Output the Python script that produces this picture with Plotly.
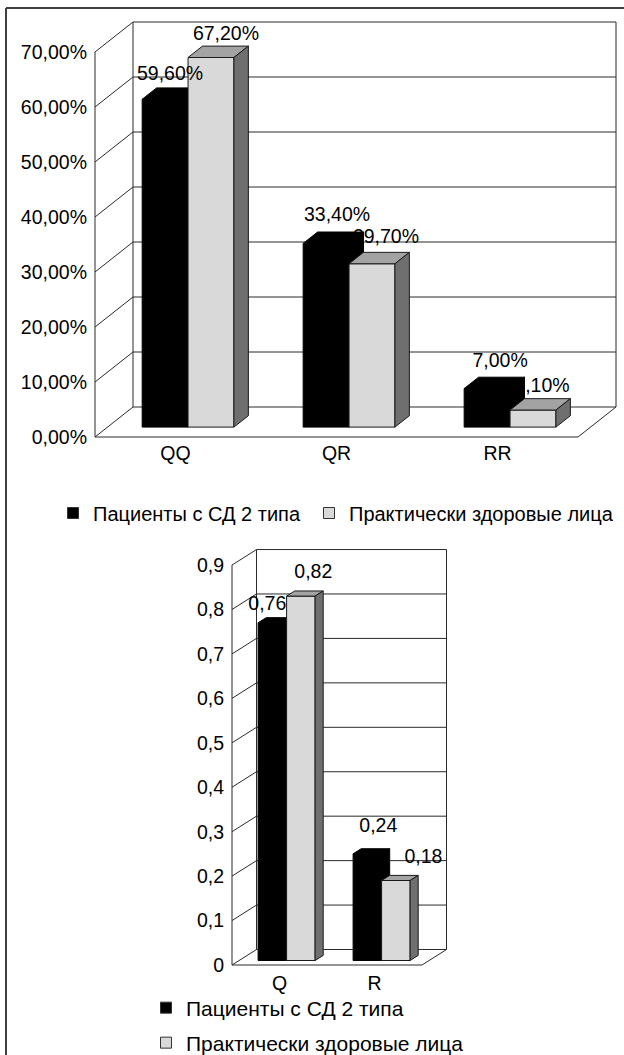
import plotly.graph_objects as go

W, H = 624, 1055

# ---------------- data ----------------
series_names = ["Пациенты с СД 2 типа", "Практически здоровые лица"]

genotypes = ["QQ", "QR", "RR"]
patients_genotype = [59.6, 33.4, 7.0]
healthy_genotype = [67.2, 29.7, 3.1]
genotype_ticks = [0, 10, 20, 30, 40, 50, 60, 70]
genotype_tick_labels = ["0,00%", "10,00%", "20,00%", "30,00%",
                        "40,00%", "50,00%", "60,00%", "70,00%"]

alleles = ["Q", "R"]
patients_allele = [0.76, 0.24]
healthy_allele = [0.82, 0.18]
allele_ticks = [0, 0.1, 0.2, 0.3, 0.4, 0.5, 0.6, 0.7, 0.8, 0.9]
allele_tick_labels = ["0", "0,1", "0,2", "0,3", "0,4",
                      "0,5", "0,6", "0,7", "0,8", "0,9"]

# ---------------- styling ----------------
FONT = "Liberation Sans, Arial, sans-serif"
TXT = 19.5
BLACK_FACES = ("#000000", "#000000", "#000000")      # front, top, side
GRAY_FACES = ("#d9d9d9", "#a3a3a3", "#6f6f6f")
EDGE = "#1a1a1a"
GRID = "#2a2a2a"


def fmt_pct(v):
    return f"{v:.2f}%".replace(".", ",")


def fmt_frac(v):
    return f"{v:.2f}".replace(".", ",")


# Oblique "3-D" panel description (pixels on the page).
panels = [
    dict(
        xa="x", ya="y", cats=genotypes, series=[patients_genotype, healthy_genotype],
        ticks=genotype_ticks, tick_labels=genotype_tick_labels, fmt=fmt_pct,
        x0=95, sx=161.0, y0=437, sy=5.5, depth=(38, 30),
        box=(94, 622, 16, 441), bar_w=0.285, front=0.33, bar_depth=0.38,
        nudge=[[(5, 24), (11, 27), (13, 26.5)], [(15, 22), (14, 26), (9, 23)]],
        xstand=-2,
    ),
    dict(
        xa="x2", ya="y2", cats=alleles, series=[patients_allele, healthy_allele],
        ticks=allele_ticks, tick_labels=allele_tick_labels, fmt=fmt_frac,
        x0=232, sx=95.0, y0=965, sy=444.4, depth=(24.5, 15.5),
        box=(231, 452, 545, 968), bar_w=0.3, front=0.29, bar_depth=0.33,
        nudge=[[(-5, 18), (11, 27)], [(12.5, 23), (27.5, 22.5)]],
        xstand=1,
    ),
]

fig = go.Figure()
shapes = []
layout_axes = {}


def poly_trace(xs, ys, fill, line, xa, ya):
    return go.Scatter(x=xs, y=ys, mode="lines", fill="toself", fillcolor=fill,
                      line=dict(color=line, width=1), xaxis=xa, yaxis=ya,
                      hoverinfo="skip", showlegend=False)


for p in panels:
    xa, ya = p["xa"], p["ya"]
    n = len(p["cats"])
    DX = p["depth"][0] / p["sx"]
    DY = p["depth"][1] / p["sy"]
    vmax = p["ticks"][-1]
    L, R, T, B = p["box"]

    # axes so that data units map linearly onto the page
    xr = [(L - p["x0"]) / p["sx"], (R - p["x0"]) / p["sx"]]
    yr = [(p["y0"] - B) / p["sy"], (p["y0"] - T) / p["sy"]]
    xkey = "xaxis" if xa == "x" else "xaxis" + xa[1:]
    ykey = "yaxis" if ya == "y" else "yaxis" + ya[1:]
    layout_axes[xkey] = dict(
        domain=[L / W, R / W], range=xr, anchor=ya, showgrid=False, zeroline=False,
        showline=False, ticks="", tickvals=[i + 0.5 for i in range(n)],
        ticktext=p["cats"], tickfont=dict(size=TXT, family=FONT, color="black"),
        ticklabelstandoff=p["xstand"], fixedrange=True,
    )
    layout_axes[ykey] = dict(
        domain=[(H - B) / H, (H - T) / H], range=yr, anchor=xa, showgrid=False,
        zeroline=False, showline=False, ticks="", tickvals=p["ticks"],
        ticktext=p["tick_labels"], tickfont=dict(size=TXT, family=FONT, color="black"),
        ticklabelstandoff=6, fixedrange=True,
    )

    def seg(xa_, ya_, x1, y1, x2, y2, color=GRID, width=1):
        shapes.append(dict(type="line", xref=xa_, yref=ya_, x0=x1, y0=y1, x1=x2, y1=y2,
                           line=dict(color=color, width=width), layer="below"))

    # side wall, back wall and grid
    for v in p["ticks"]:
        seg(xa, ya, 0, v, DX, v + DY)
        seg(xa, ya, DX, v + DY, n + DX, v + DY)
    seg(xa, ya, DX, DY, DX, vmax + DY)
    seg(xa, ya, n + DX, DY, n + DX, vmax + DY)
    # front value axis and floor
    seg(xa, ya, 0, 0, 0, vmax)
    seg(xa, ya, 0, 0, n, 0)
    seg(xa, ya, n, 0, n + DX, DY)

    w = p["bar_w"]
    fx, fy = p["front"] * DX, p["front"] * DY
    bx, by = p["bar_depth"] * DX, p["bar_depth"] * DY

    def label_trace(s):
        xs, ys, txt = [], [], []
        for i, v in enumerate(p["series"][s]):
            c = i + 0.5 + (w / 2 if s else -w / 2) + fx
            nx, ny = p["nudge"][s][i]
            xs.append(c + nx / p["sx"])
            ys.append(v + fy + ny / p["sy"])
            txt.append(p["fmt"](v))
        return go.Scatter(x=xs, y=ys, mode="text", text=txt, textposition="middle center",
                          textfont=dict(size=TXT, family=FONT, color="black"),
                          xaxis=xa, yaxis=ya, hoverinfo="skip", showlegend=False,
                          cliponaxis=False)

    def bar_traces(s, faces):
        fr = ([], [])
        tp = ([], [])
        sd = ([], [])
        for i, v in enumerate(p["series"][s]):
            c = i + 0.5
            xl = (c if s else c - w) + fx
            xrr = xl + w
            yb, yt = fy, v + fy
            fr[0].extend([xl, xrr, xrr, xl, xl, None])
            fr[1].extend([yb, yb, yt, yt, yb, None])
            tp[0].extend([xl, xrr, xrr + bx, xl + bx, xl, None])
            tp[1].extend([yt, yt, yt + by, yt + by, yt, None])
            sd[0].extend([xrr, xrr + bx, xrr + bx, xrr, xrr, None])
            sd[1].extend([yb, yb + by, yt + by, yt, yb, None])
        edge = "#000000" if s == 0 else EDGE
        return [poly_trace(fr[0], fr[1], faces[0], edge, xa, ya),
                poly_trace(tp[0], tp[1], faces[1], edge, xa, ya),
                poly_trace(sd[0], sd[1], faces[2], edge, xa, ya)]

    # drawing order: healthy labels, patient bars, healthy bars, patient labels
    fig.add_trace(label_trace(1))
    for t in bar_traces(0, BLACK_FACES):
        fig.add_trace(t)
    for t in bar_traces(1, GRAY_FACES):
        fig.add_trace(t)
    fig.add_trace(label_trace(0))

# legend entries (one legend per entry so each can be placed freely)
legend_specs = [
    ("legend", series_names[0], BLACK_FACES[0], 20, 53, 513),
    ("legend2", series_names[1], GRAY_FACES[0], 20, 309, 513),
    ("legend3", series_names[0], BLACK_FACES[0], 21, 146, 1008),
    ("legend4", series_names[1], GRAY_FACES[0], 21, 146, 1043),
]
legend_layout = {}
for key, name, color, size, lx, ly in legend_specs:
    fig.add_trace(go.Scatter(
        x=[None], y=[None], mode="markers", name=name,
        marker=dict(symbol="square", size=11, color=color,
                    line=dict(color="#333333", width=1)),
        legend=key, showlegend=True, hoverinfo="skip"))
    legend_layout[key] = dict(
        x=lx / W, y=(H - ly) / H, xanchor="left", yanchor="middle",
        bgcolor="rgba(0,0,0,0)", borderwidth=0,
        font=dict(size=size, family=FONT, color="black"))

# outer frame (left and top rules)
shapes.append(dict(type="line", xref="paper", yref="paper", x0=6 / W, x1=6 / W,
                   y0=0, y1=(H - 8) / H, line=dict(color="#404040", width=2)))
shapes.append(dict(type="line", xref="paper", yref="paper", x0=6 / W, x1=1,
                   y0=(H - 8) / H, y1=(H - 8) / H, line=dict(color="#404040", width=2)))

fig.update_layout(
    width=W, height=H,
    margin=dict(l=0, r=0, t=0, b=0, autoexpand=False),
    paper_bgcolor="white", plot_bgcolor="white",
    font=dict(family=FONT, size=TXT, color="black"),
    shapes=shapes, showlegend=True, **layout_axes, **legend_layout,
)

fig.write_html("out.html")
